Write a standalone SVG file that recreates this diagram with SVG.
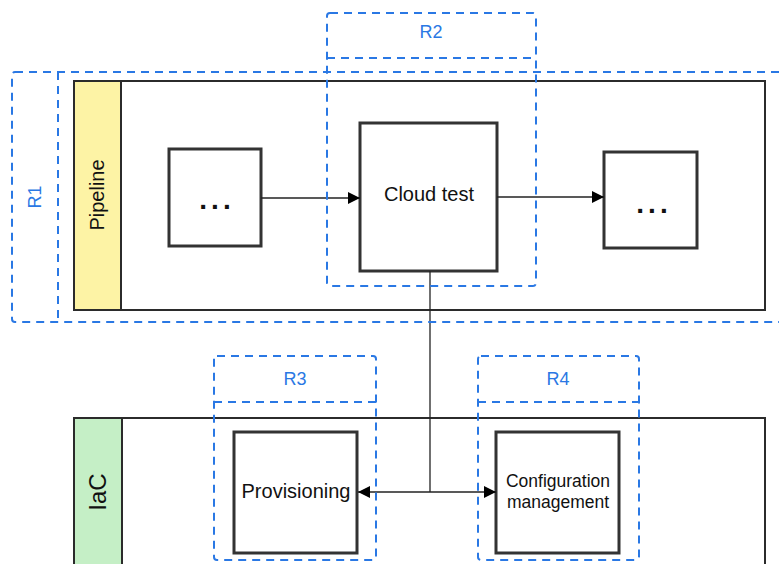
<svg xmlns="http://www.w3.org/2000/svg" width="779" height="564" viewBox="0 0 779 564">
<style>
.region{fill:none;stroke:#2a78e4;stroke-width:2;stroke-dasharray:8 6}
.rlabel{font-family:"Liberation Sans",Arial,sans-serif;font-size:18px;fill:#2a78e4;text-anchor:middle}
.pool{fill:#fff;stroke:#2b2b2b;stroke-width:2}
.box{fill:#fff;stroke:#333;stroke-width:3}
.t{font-family:"Liberation Sans",Arial,sans-serif;fill:#111;text-anchor:middle}
.conn{fill:none;stroke:#222;stroke-width:1.3}
</style>
<defs>
<marker id="arr" viewBox="0 0 10 10" refX="10" refY="5" markerWidth="19" markerHeight="12" markerUnits="userSpaceOnUse" orient="auto"><path d="M0,0 L10,5 L0,10 z" fill="#000"/></marker>
</defs>
<g id="pipeline">
<rect class="pool" x="74" y="81" width="691" height="229"/>
<rect x="74" y="81" width="47" height="229" fill="#fdf3a5" stroke="#2b2b2b" stroke-width="2"/>
<text class="t" transform="translate(104,195) rotate(-90)" font-size="20">Pipeline</text>
</g>
<g id="iac">
<rect class="pool" x="74" y="418" width="691" height="160"/>
<rect x="74" y="418" width="48" height="160" fill="#c5efc6" stroke="#2b2b2b" stroke-width="2"/>
<text class="t" transform="translate(106,492) rotate(-90)" font-size="24">IaC</text>
</g>
<g id="step1">
<rect class="box" x="169" y="149" width="92" height="97"/>
<text class="t" x="217" y="209" font-size="28" font-weight="bold" letter-spacing="4">...</text>
</g>
<g id="cloud-test">
<rect class="box" x="360" y="123" width="137" height="148"/>
<text class="t" x="429" y="201" font-size="20">Cloud test</text>
</g>
<g id="step3">
<rect class="box" x="604" y="152" width="93" height="96"/>
<text class="t" x="654" y="213" font-size="28" font-weight="bold" letter-spacing="4">...</text>
</g>
<g id="provisioning">
<rect class="box" x="234" y="432" width="123" height="121"/>
<text class="t" x="296" y="498" font-size="20">Provisioning</text>
</g>
<g id="config">
<rect class="box" x="496" y="432" width="123" height="121"/>
<text class="t" x="558" y="487" font-size="17.5">Configuration</text>
<text class="t" x="558" y="508" font-size="17.5">management</text>
</g>
<g id="connectors">
<line class="conn" x1="261" y1="198" x2="360" y2="198" marker-end="url(#arr)"/>
<line class="conn" x1="497" y1="197" x2="604" y2="197" marker-end="url(#arr)"/>
<polyline class="conn" points="430,271 430,492"/>
<line class="conn" x1="430" y1="492" x2="358" y2="492" marker-end="url(#arr)"/>
<line class="conn" x1="430" y1="492" x2="496" y2="492" marker-end="url(#arr)"/>
</g>
<g id="R1">
<rect class="region" x="12" y="72" width="790" height="250" rx="3"/>
<line class="region" x1="58" y1="72" x2="58" y2="322"/>
<text class="rlabel" transform="translate(41,197) rotate(-90)">R1</text>
</g>
<g id="R2">
<rect class="region" x="327" y="13" width="209" height="273" rx="3"/>
<line class="region" x1="327" y1="58" x2="536" y2="58"/>
<text class="rlabel" x="431" y="38">R2</text>
</g>
<g id="R3">
<rect class="region" x="214" y="356" width="162" height="204" rx="3"/>
<line class="region" x1="214" y1="402" x2="376" y2="402"/>
<text class="rlabel" x="295" y="385">R3</text>
</g>
<g id="R4">
<rect class="region" x="478" y="356" width="161" height="204" rx="3"/>
<line class="region" x1="478" y1="402" x2="639" y2="402"/>
<text class="rlabel" x="558" y="385">R4</text>
</g>
</svg>
